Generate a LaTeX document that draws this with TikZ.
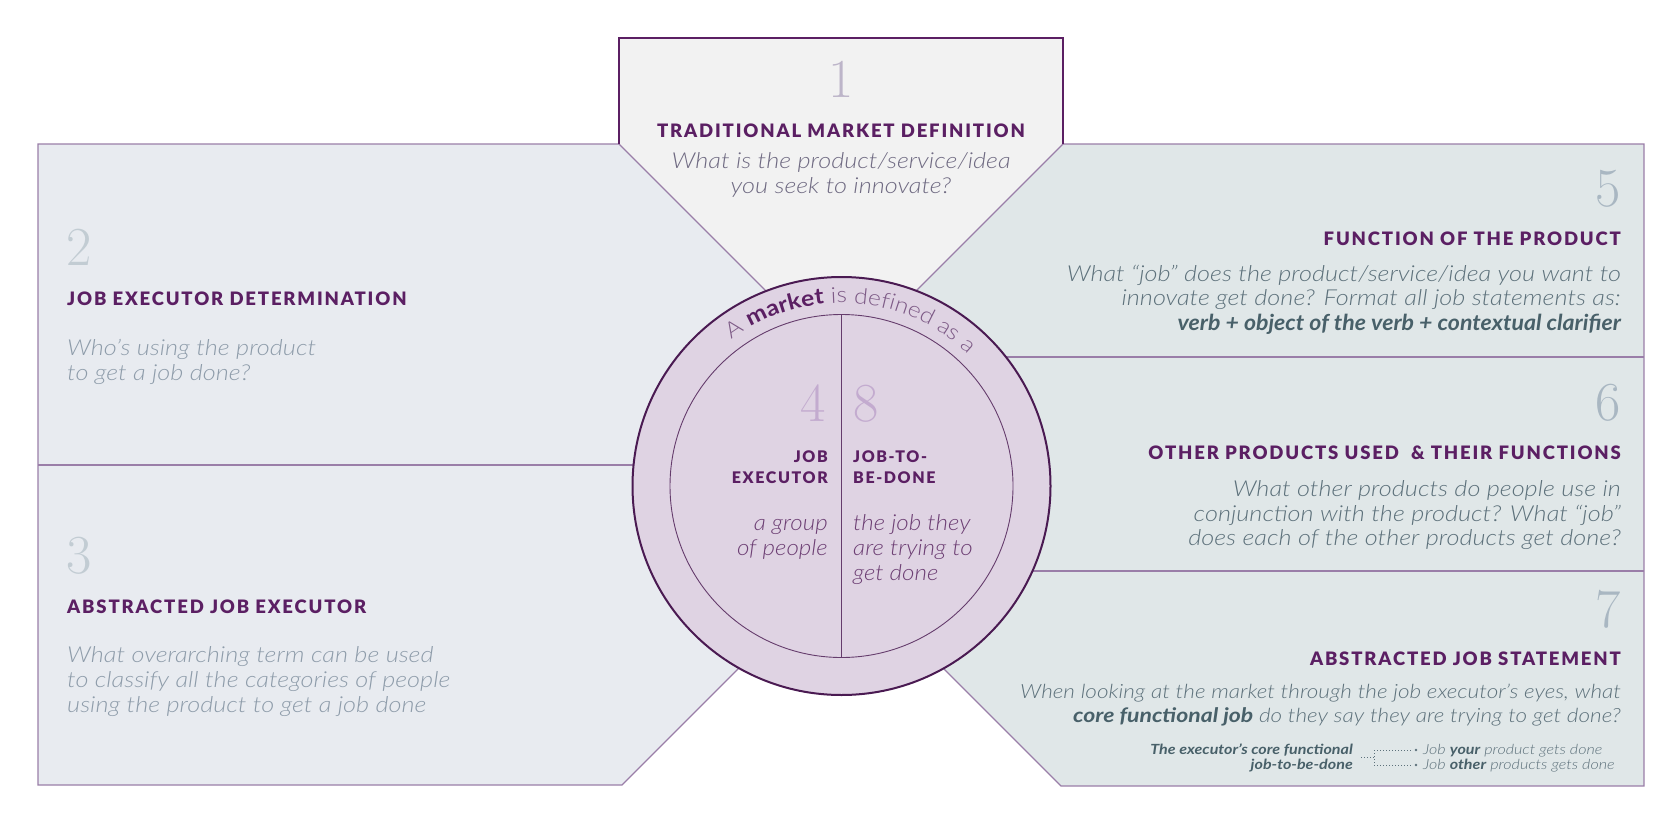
\documentclass[tikz,border=0pt]{standalone}
\usepackage{fontspec}
\usetikzlibrary{decorations.text}

% text faces
\newfontfamily\lightit{Lato Light Italic}[FakeStretch=1.15]
\newfontfamily\boldit{Lato Bold Italic}[FakeStretch=1.05]
\newfontfamily\wideboldit{Lato Bold Italic}[FakeStretch=1.15]
\newfontfamily\discit{Lato Light Italic}[FakeStretch=1.1]
\newfontfamily\arclight{Lato Light}[FakeStretch=1.12]
\newfontfamily\arcbold{Lato Bold}[FakeStretch=1.12]
\newfontfamily\headfont{Lato Black}[LetterSpace=10]

\definecolor{plum}{HTML}{5B1F63}
\definecolor{edge}{HTML}{9A7EA8}
\definecolor{ring}{HTML}{4A1A52}
\definecolor{leftfill}{HTML}{E8EBF0}
\definecolor{rightfill}{HTML}{E0E7E8}
\definecolor{topfill}{HTML}{F2F2F2}
\definecolor{discfill}{HTML}{DFD3E3}
\definecolor{numtop}{HTML}{BDB5C9}
\definecolor{numleft}{HTML}{C2CCD3}
\definecolor{numright}{HTML}{A9B7C2}
\definecolor{numdisc}{HTML}{C3ABCF}
\definecolor{txttop}{HTML}{6F6A82}
\definecolor{txtleft}{HTML}{8E9CAA}
\definecolor{txtright}{HTML}{5D717B}
\definecolor{txtdark}{HTML}{486069}
\definecolor{txtdisc}{HTML}{6D3F74}
\definecolor{arctxt}{HTML}{7D5A86}

\newcommand\arcplain{\arclight\fontsize{22}{22}\selectfont\color{arctxt}}
\newcommand\arcstrong{\arcbold\fontsize{22}{22}\selectfont\color{plum}}

\begin{document}
\begin{tikzpicture}[x=1pt, y=-1pt,
  num/.style={inner sep=0, font=\fontsize{55}{55}\selectfont},
  head/.style={inner sep=0, text=plum, font=\headfont\fontsize{18.5}{22}\selectfont},
  discHead/.style={inner sep=0, text=plum, font=\headfont\fontsize{16}{20}\selectfont},
  body/.style={inner sep=0, font=\lightit\fontsize{22}{25}\selectfont},
  bodySeven/.style={inner sep=0, font=\lightit\fontsize{19.6}{24}\selectfont},
  discBody/.style={inner sep=0, text=txtdisc, font=\discit\fontsize{22}{25}\selectfont},
  note/.style={inner sep=0, text=txtright, font=\lightit\fontsize{14}{15}\selectfont},
  noteStrong/.style={inner sep=0, text=txtdark, font=\wideboldit\fontsize{14}{15}\selectfont},
  panelEdge/.style={draw=edge, line width=1.1pt},
  dotLine/.style={draw=txtright, line width=1pt, dash pattern=on 1pt off 2pt}
]
\useasboundingbox (0,0) rectangle (1680,840);

% centre of the disc
\coordinate (c) at (841.5,486);

% ---- panel fills ----
\fill[topfill]   (619,38) -- (1063,38) -- (1063,144) -- (841,366) -- (619,144) -- cycle;
\fill[leftfill]  (38,144) -- (619,144) -- (841,366) -- (841,465) -- (38,465) -- cycle;
\fill[leftfill]  (38,465) -- (841,465) -- (841,566) -- (622,785) -- (38,785) -- cycle;
\fill[rightfill] (1063,144) -- (1644,144) -- (1644,357) -- (850,357) -- cycle;
\fill[rightfill] (841,357) -- (1644,357) -- (1644,571) -- (841,571) -- cycle;
\fill[rightfill] (846,571) -- (1644,571) -- (1644,786) -- (1061,786) -- cycle;

% ---- panel outlines ----
\draw[panelEdge] (619,144) -- (38,144) -- (38,785) -- (622,785) -- (841,566);
\draw[panelEdge] (38,465) -- (841,465);
\draw[panelEdge] (619,144) -- (841,366) -- (1063,144);
\draw[panelEdge] (1063,144) -- (1644,144) -- (1644,786) -- (1061,786) -- (846,571);
\draw[panelEdge] (841,357) -- (1644,357);
\draw[panelEdge] (841,571) -- (1644,571);
\draw[draw=plum, line width=2.2pt] (619,144) -- (619,38) -- (1063,38) -- (1063,144);

% ---- the disc ----
\draw[fill=discfill, draw=ring, line width=2pt] (c) circle[radius=209];
\draw[draw=ring!85, line width=0.9pt] (c) circle[radius=171.5];
\draw[draw=ring!85, line width=0.9pt] (841.5,314.5) -- (841.5,657.5);
\path[decorate, decoration={text along path, text align=center,
  text={|\arcplain|A |\arcstrong|market|\arcplain| is defined as a}}]
  (c) ++(-133:183) arc[start angle=-133, end angle=-40, radius=183];

\node[num, text=numdisc, anchor=base east] (n4) at (826,421) {4};
\node[num, text=numdisc, anchor=base west] (n8) at (853,421) {8};
\node[discHead, anchor=base east] (h4a) at (828,462) {JOB};
\node[discHead, anchor=base east] (h4b) at (828,483) {EXECUTOR};
\node[discHead, anchor=base west] (h8a) at (853,462) {JOB-TO-};
\node[discHead, anchor=base west] (h8b) at (853,483) {BE-DONE};
\node[discBody, anchor=base east] (b4a) at (828,530) {a group};
\node[discBody, anchor=base east] (b4b) at (828,555) {of people};
\node[discBody, anchor=base west] (b8a) at (853,530) {the job they};
\node[discBody, anchor=base west] (b8b) at (853,555) {are trying to};
\node[discBody, anchor=base west] (b8c) at (853,580) {get done};

% ---- panel 1 ----
\node[num, text=numtop, anchor=base] (n1) at (841,98) {1};
\node[head, anchor=base] (h1) at (841,138) {TRADITIONAL MARKET DEFINITION};
\node[body, text=txttop, anchor=base] (b1a) at (841,168) {What is the product/service/idea};
\node[body, text=txttop, anchor=base] (b1b) at (841,193) {you seek to innovate?};

% ---- panel 2 ----
\node[num, text=numleft, anchor=base west] (n2) at (66,265) {2};
\node[head, anchor=base west] (h2) at (67,305) {JOB EXECUTOR DETERMINATION};
\node[body, text=txtleft, anchor=base west] (b2a) at (67,355) {Who’s using the product};
\node[body, text=txtleft, anchor=base west] (b2b) at (67,380) {to get a job done?};

% ---- panel 3 ----
\node[num, text=numleft, anchor=base west] (n3) at (66,573) {3};
\node[head, anchor=base west] (h3) at (67,613) {ABSTRACTED JOB EXECUTOR};
\node[body, text=txtleft, anchor=base west] (b3a) at (67,662) {What overarching term can be used};
\node[body, text=txtleft, anchor=base west] (b3b) at (67,687) {to classify all the categories of people};
\node[body, text=txtleft, anchor=base west] (b3c) at (67,712) {using the product to get a job done};

% ---- panel 5 ----
\node[num, text=numright, anchor=base east] (n5) at (1621,206) {5};
\node[head, anchor=base east] (h5) at (1621,245) {FUNCTION OF THE PRODUCT};
\node[body, text=txtright, anchor=base east] (b5a) at (1621,281) {What “job” does the product/service/idea you want to};
\node[body, text=txtright, anchor=base east] (b5b) at (1621,305) {innovate get done? Format all job statements as:};
\node[body, text=txtdark, anchor=base east] (b5c) at (1621,330) {\boldit verb + object of the verb + contextual clarifier};

% ---- panel 6 ----
\node[num, text=numright, anchor=base east] (n6) at (1621,420) {6};
\node[head, anchor=base east] (h6) at (1621,459) {OTHER PRODUCTS USED\ \ \& THEIR FUNCTIONS};
\node[body, text=txtright, anchor=base east] (b6a) at (1621,496) {What other products do people use in};
\node[body, text=txtright, anchor=base east] (b6b) at (1621,521) {conjunction with the product? What “job”};
\node[body, text=txtright, anchor=base east] (b6c) at (1621,545) {does each of the other products get done?};

% ---- panel 7 ----
\node[num, text=numright, anchor=base east] (n7) at (1621,627) {7};
\node[head, anchor=base east] (h7) at (1621,665) {ABSTRACTED JOB STATEMENT};
\node[bodySeven, text=txtright, anchor=base east] (b7a) at (1621,698) {When looking at the market through the job executor’s eyes, what};
\node[bodySeven, text=txtright, anchor=base east] (b7b) at (1621,722) {{\wideboldit\fontsize{20}{24}\selectfont\color{txtdark}core functional job} do they say they are trying to get done?};

\node[noteStrong, anchor=base east] (f1) at (1353,754) {The executor’s core functional};
\node[noteStrong, anchor=base east] (f2) at (1353,769) {job-to-be-done};
\node[note, anchor=base west] (j1) at (1423,754) {Job {\wideboldit\color{txtdark}your} product gets done};
\node[note, anchor=base west] (j2) at (1423,769) {Job {\wideboldit\color{txtdark}other} products gets done};

% dotted bracket joining the two kinds of job
\coordinate (kS) at (1361,757.5);
\coordinate (kM) at (1374,757.5);
\coordinate (kT) at (1374,750);
\coordinate (kB) at (1374,765);
\coordinate (kT2) at (1412,750);
\coordinate (kB2) at (1412,765);
\draw[dotLine] (kS) -- (kM);
\draw[dotLine] (kT) -- (kB);
\draw[dotLine] (kT) -- (kT2);
\draw[dotLine] (kB) -- (kB2);
\fill[txtright] (1416,750) circle[radius=1.4];
\fill[txtright] (1416,765) circle[radius=1.4];
\end{tikzpicture}
\end{document}
